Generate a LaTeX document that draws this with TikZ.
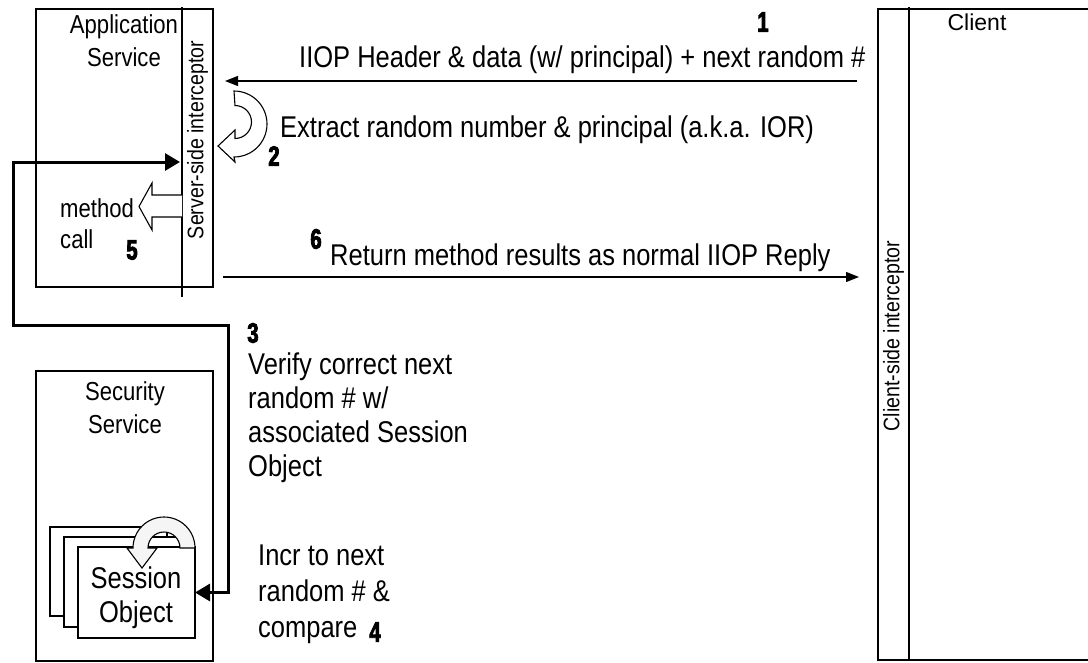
\documentclass[tikz,border=0pt]{standalone}
\usepackage{fontspec}
\setmainfont{Liberation Sans}[FakeStretch=0.85]
\newfontfamily\numfont{Liberation Sans Bold}[FakeStretch=0.72, FakeBold=3]
\newfontfamily\regfont{Liberation Sans}
\newfontfamily\sidefont{Liberation Sans}[FakeStretch=0.87]
\usetikzlibrary{arrows.meta}
\tikzset{
  box/.style={draw, line width=1.2pt, inner sep=0pt, outer sep=0pt, anchor=north west},
  line/.style={line width=1.2pt},
  main/.style={font=\fontsize{30}{34}\selectfont, inner sep=0pt, align=left, anchor=base west},
  title/.style={font=\fontsize{26}{33}\selectfont, inner sep=0pt, align=center, anchor=base},
  num/.style={font=\numfont\fontsize{28}{28}\selectfont, inner sep=0pt},
  side/.style={font=\sidefont\fontsize{22.5}{24}\selectfont, inner sep=0pt, rotate=90},
  msg/.style={line width=1.3pt, -{Triangle[length=13pt,width=10pt]}},
  call/.style={line width=3pt, line join=miter, {Triangle[length=15pt,width=17pt]}-{Triangle[length=15pt,width=17pt]}},
  hollow/.style={line width=1.1pt, fill=white, line join=miter},
}
\begin{document}
\begin{tikzpicture}[x=1pt, y=-1pt]
\useasboundingbox (0,0) rectangle (1088,662);
% Application service box
\node[box, minimum width=177pt, minimum height=278pt] (app) at (36,9) {};
\draw[line] (182,7) -- (182,297);
\node[side] (srvlbl) at (197.5,140) {Server-side interceptor};
\node[title] (applbl) at (124,66) {Application\\Service};
% Security service box
\node[box, minimum width=177pt, minimum height=290pt] (sec) at (36,371) {};
\node[title] (seclbl) at (125,433) {Security\\Service};
% Session object stack
\node[box, fill=white, minimum width=117pt, minimum height=89pt] (sessA) at (50,527) {};
\node[box, fill=white, minimum width=117pt, minimum height=90pt] (sessB) at (64,537) {};
\node[box, fill=white, minimum width=117pt, minimum height=91pt] (sessF) at (78,547) {};
\filldraw[hollow, fill=gray!8] (148,548) arc[start angle=180, end angle=360, radius=16] -- (195,548)
  arc[start angle=0, end angle=-180, radius=31] -- (127,548) -- (142,568) -- (157,548) -- cycle;
\node[font=\fontsize{30}{34}\selectfont, inner sep=0pt, align=center, anchor=base] (sesslbl) at (136,622) {Session\\Object};
% Client box
\draw[line] (1090,9) -- (878,9) -- (878,660) -- (1090,660);
\draw[line] (909,7) -- (909,660);
\node[font=\regfont\fontsize{23}{23}\selectfont, inner sep=0pt, anchor=base] (clilbl) at (977,30) {Client};
\node[side] (clislbl) at (893.5,336) {Client-side interceptor};
% Messages
\coordinate (m1s) at (857,81);
\coordinate (m1e) at (225,81);
\draw[msg] (m1s) -- (m1e);
\node[main] (t1) at (299,67) {IIOP Header \& data (w/ principal) + next random \#};
\node[num] (n1) at (763,22) {1};
\filldraw[hollow] (234,91) arc[start angle=-90, end angle=90, radius=33] -- (235,162) -- (218,146)
  -- (235,130) -- (235,138.5) arc[start angle=90, end angle=-90, radius=16.5] -- cycle;
\node[main] (t2) at (280,137) {Extract random number \& principal (a.k.a. IOR)};
\node[num] (n2) at (274,156) {2};
\coordinate (m6s) at (223,277);
\coordinate (m6e) at (859,277);
\draw[msg] (m6s) -- (m6e);
\node[main] (t6) at (330,265) {Return method results as normal IIOP Reply};
\node[num] (n6) at (316,239) {6};
% method call
\filldraw[hollow] (182,195) -- (152,195) -- (152,183) -- (139,206.5) -- (152,230) -- (152,217) -- (182,217);
\node[title, align=left, anchor=base west, font=\fontsize{26}{31}\selectfont] (mcall) at (60,248) {method\\call};
\node[num] (n5) at (132,250) {5};
% call to security service
\coordinate (b1) at (180,162);
\draw[call] (b1) -- (13,162) -- (13,325) -- (228,325) |- (sessF.east);
\node[num] (n3) at (253,333) {3};
\node[main] (t3) at (248,476) {Verify correct next\\random \# w/\\associated Session\\Object};
\node[main, font=\fontsize{30}{36}\selectfont] (t4) at (258,637) {Incr to next\\random \# \&\\compare};
\node[num] (n4) at (375,632) {4};
\end{tikzpicture}
\end{document}
